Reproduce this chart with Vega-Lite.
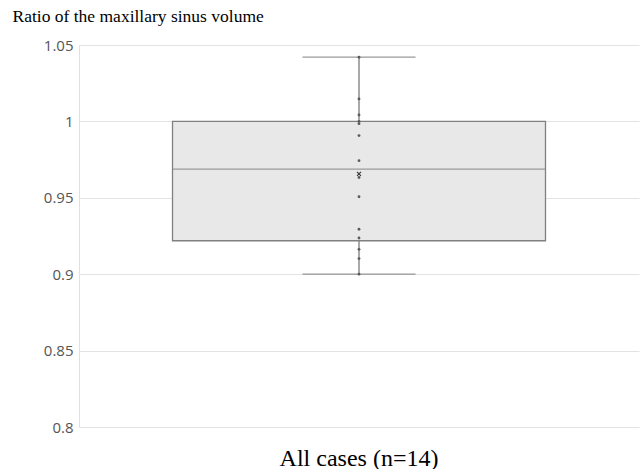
{
  "$schema": "https://vega.github.io/schema/vega-lite/v6.json",
  "autosize": "none",
  "width": 560,
  "height": 382,
  "padding": {"left": 79, "top": 45, "right": 3, "bottom": 42},
  "background": "white",
  "config": {
    "view": {"stroke": null},
    "axis": {"labelFont": "Open Sans", "labelColor": "#555555", "gridColor": "#e3e3e3", "domainColor": "#e0e0e0"}
  },
  "datasets": {
    "points": [
      {"group": "All cases (n=14)", "ratio": 1.042},
      {"group": "All cases (n=14)", "ratio": 1.0147},
      {"group": "All cases (n=14)", "ratio": 1.0042},
      {"group": "All cases (n=14)", "ratio": 1.0},
      {"group": "All cases (n=14)", "ratio": 0.9985},
      {"group": "All cases (n=14)", "ratio": 0.9907},
      {"group": "All cases (n=14)", "ratio": 0.9743},
      {"group": "All cases (n=14)", "ratio": 0.9633},
      {"group": "All cases (n=14)", "ratio": 0.9507},
      {"group": "All cases (n=14)", "ratio": 0.9294},
      {"group": "All cases (n=14)", "ratio": 0.9237},
      {"group": "All cases (n=14)", "ratio": 0.9163},
      {"group": "All cases (n=14)", "ratio": 0.9102},
      {"group": "All cases (n=14)", "ratio": 0.9}
    ],
    "summary": [
      {"group": "All cases (n=14)", "min": 0.9, "q1": 0.9219, "median": 0.9688, "q3": 1.0, "max": 1.042, "mean": 0.9656}
    ]
  },
  "encoding": {
    "x": {
      "field": "group", "type": "nominal",
      "scale": {"paddingInner": 0, "paddingOuter": 0},
      "axis": {"title": null, "ticks": false, "domain": false, "labelAngle": 0, "labelFont": "Liberation Serif", "labelFontSize": 24, "labelColor": "#000000", "labelPadding": 38, "labelBaseline": "alphabetic"}
    }
  },
  "layer": [
    {
      "data": {"name": "summary"},
      "mark": {"type": "rule", "color": "#7a7a7a", "strokeWidth": 1.3},
      "encoding": {
        "y": {
          "field": "min", "type": "quantitative",
          "scale": {"domain": [0.8, 1.05], "nice": false, "zero": false},
          "axis": {
            "values": [0.8, 0.85, 0.9, 0.95, 1, 1.05],
            "format": "~g", "labelFontSize": 15, "labelPadding": 6, "ticks": false,
            "domain": true, "grid": true,
            "title": "Ratio of the maxillary sinus volume",
            "titleAngle": 0, "titleAlign": "left", "titleBaseline": "alphabetic",
            "titleX": -67, "titleY": -24, "titleFont": "Liberation Serif", "titleFontSize": 17.5, "titleFontWeight": "normal", "titleColor": "#000000"
          }
        },
        "y2": {"field": "max"}
      }
    },
    {
      "data": {"name": "summary"},
      "mark": {"type": "bar", "width": 373, "fill": "#e8e8e8", "stroke": "#808080", "strokeWidth": 1.3},
      "encoding": {"y": {"field": "q1", "type": "quantitative"}, "y2": {"field": "q3"}}
    },
    {
      "data": {"name": "summary"},
      "mark": {"type": "tick", "orient": "horizontal", "size": 373, "thickness": 1.2, "color": "#7a7a7a"},
      "encoding": {"y": {"field": "median", "type": "quantitative"}}
    },
    {
      "data": {"name": "summary"},
      "mark": {"type": "tick", "orient": "horizontal", "size": 113, "thickness": 1.3, "color": "#6f6f6f"},
      "encoding": {"y": {"field": "max", "type": "quantitative"}}
    },
    {
      "data": {"name": "summary"},
      "mark": {"type": "tick", "orient": "horizontal", "size": 113, "thickness": 1.3, "color": "#6f6f6f"},
      "encoding": {"y": {"field": "min", "type": "quantitative"}}
    },
    {
      "data": {"name": "points"},
      "mark": {"type": "point", "shape": "circle", "filled": true, "size": 8, "color": "#5a5a5a", "opacity": 1},
      "encoding": {"y": {"field": "ratio", "type": "quantitative"}}
    },
    {
      "data": {"name": "summary"},
      "mark": {"type": "point", "shape": "M-1,-1L1,1M-1,1L1,-1", "filled": false, "size": 16, "strokeWidth": 1.1, "color": "#333333", "opacity": 1},
      "encoding": {"y": {"field": "mean", "type": "quantitative"}}
    }
  ]
}
